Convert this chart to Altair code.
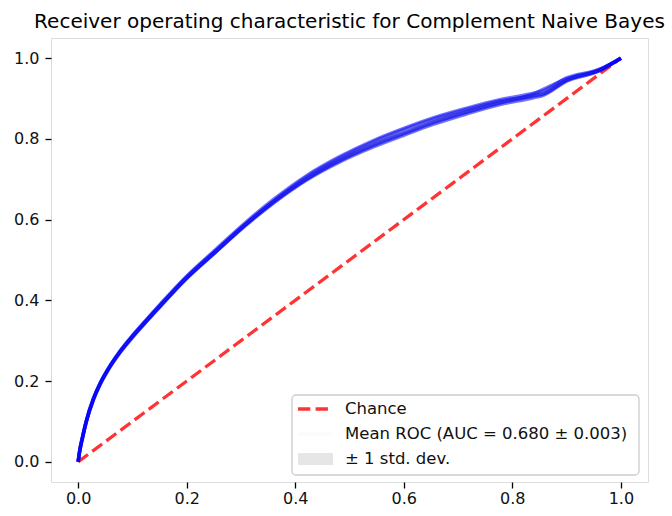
import altair as alt
import pandas as pd

# False positive rate grid shared by every fold
fpr = [0, 0.003, 0.008, 0.015, 0.028, 0.04, 0.053, 0.077, 0.1, 0.125, 0.155,
       0.194, 0.255, 0.311, 0.36, 0.421, 0.482, 0.544, 0.6, 0.654, 0.716,
       0.777, 0.839, 0.857, 0.9, 0.961, 1.0]

# True positive rate for each cross-validation fold
fold_tpr = [
    [0, 0.026, 0.058, 0.098, 0.153, 0.190, 0.222, 0.270, 0.308, 0.346, 0.390,
     0.446, 0.521, 0.588, 0.641, 0.698, 0.743, 0.780, 0.809, 0.836, 0.862,
     0.885, 0.902, 0.908, 0.943, 0.969, 1.0],
    [0, 0.030, 0.062, 0.102, 0.157, 0.194, 0.226, 0.274, 0.312, 0.350, 0.394,
     0.450, 0.525, 0.592, 0.645, 0.702, 0.748, 0.786, 0.815, 0.842, 0.868,
     0.891, 0.908, 0.913, 0.946, 0.971, 1.0],
    [0, 0.028, 0.060, 0.100, 0.155, 0.192, 0.224, 0.272, 0.310, 0.348, 0.392,
     0.448, 0.523, 0.590, 0.643, 0.700, 0.746, 0.784, 0.813, 0.840, 0.866,
     0.889, 0.906, 0.911, 0.945, 0.970, 1.0],
    [0, 0.029, 0.061, 0.101, 0.156, 0.193, 0.225, 0.274, 0.313, 0.351, 0.396,
     0.452, 0.528, 0.596, 0.650, 0.709, 0.756, 0.796, 0.826, 0.852, 0.876,
     0.897, 0.913, 0.919, 0.951, 0.973, 1.0],
    [0, 0.027, 0.059, 0.099, 0.154, 0.191, 0.223, 0.271, 0.309, 0.347, 0.391,
     0.447, 0.522, 0.591, 0.646, 0.706, 0.753, 0.793, 0.823, 0.849, 0.873,
     0.894, 0.911, 0.923, 0.949, 0.972, 1.0],
]

chance = [0.0, 1.0]
ticks = [0.0, 0.2, 0.4, 0.6, 0.8, 1.0]
legend_labels = ["Chance", "Mean ROC (AUC = 0.680 ± 0.003)", "± 1 std. dev."]
title_text = "Receiver operating characteristic for Complement Naive Bayes"

FONT = "DejaVu Sans"

rows = []
for k, tpr in enumerate(fold_tpr):
    for f, t in zip(fpr, tpr):
        rows.append({"fold": k, "fpr": f, "tpr": t})
folds = pd.DataFrame(rows)

stats = folds.groupby("fpr")["tpr"].agg(["mean", "std"]).reset_index()
stats["lo"] = stats["mean"] - stats["std"]
stats["hi"] = (stats["mean"] + stats["std"]).clip(upper=1.0)

diag = pd.DataFrame({"fpr": chance, "tpr": chance})

xs = alt.Scale(domain=[-0.05, 1.05], nice=False, zero=False)
ys = alt.Scale(domain=[-0.05, 1.05], nice=False, zero=False)

xaxis = alt.Axis(values=ticks, format=".1f", title=None, grid=False, domain=False,
                 tickSize=6, tickWidth=1.3, tickColor="#000", labelPadding=2,
                 labelFont=FONT, labelFontSize=16, labelColor="#111")
yaxis = alt.Axis(values=ticks, format=".1f", title=None, grid=False, domain=False,
                 tickSize=6, tickWidth=1.3, tickColor="#000", labelPadding=6,
                 labelFont=FONT, labelFontSize=16, labelColor="#111")

chance_line = alt.Chart(diag).mark_line(
    color="#ff0000", opacity=0.8, strokeWidth=3.3, strokeDash=[12.3, 5.3]
).encode(x=alt.X("fpr:Q", scale=xs, axis=xaxis), y=alt.Y("tpr:Q", scale=ys, axis=yaxis))

fold_lines = alt.Chart(folds).mark_line(
    color="#0000ff", opacity=0.55, strokeWidth=3.5, interpolate="monotone"
).encode(x=alt.X("fpr:Q", scale=xs), y=alt.Y("tpr:Q", scale=ys), detail="fold:N")

band = alt.Chart(stats).mark_area(color="grey", opacity=0.2, interpolate="monotone").encode(
    x=alt.X("fpr:Q", scale=xs), y=alt.Y("lo:Q", scale=ys), y2="hi:Q"
)

mean_line = alt.Chart(stats).mark_line(
    color="#0000ff", opacity=0.02, strokeWidth=3.3, interpolate="monotone"
).encode(x=alt.X("fpr:Q", scale=xs), y=alt.Y("mean:Q", scale=ys))

# Legend box in the lower right corner
LX0, LX1, LY0, LY1 = 292, 639, 395, 475
ROW_Y = [409, 434, 459]
H0, H1, TX = 298, 331, 345
one = pd.DataFrame({"a": [0]})

legend_box = alt.Chart(one).mark_rect(
    fill="white", fillOpacity=0.8, stroke="#cccccc", strokeWidth=1.3, cornerRadius=4
).encode(x=alt.value(LX0 - 51), x2=alt.value(LX1 - 51),
         y=alt.value(LY0 - 38), y2=alt.value(LY1 - 38))

leg_chance = alt.Chart(one).mark_rule(
    color="#ff0000", opacity=0.8, strokeWidth=3.3, strokeDash=[12.3, 5.3]
).encode(x=alt.value(H0 - 51), x2=alt.value(H1 - 51), y=alt.value(ROW_Y[0] - 38))

leg_mean = alt.Chart(one).mark_rule(
    color="#0000ff", opacity=0.02, strokeWidth=3.3
).encode(x=alt.value(H0 - 51), x2=alt.value(H1 - 51), y=alt.value(ROW_Y[1] - 38))

leg_band = alt.Chart(one).mark_rect(color="grey", opacity=0.2).encode(
    x=alt.value(H0 - 51), x2=alt.value(H1 - 51 + 2),
    y=alt.value(ROW_Y[2] - 38 - 6), y2=alt.value(ROW_Y[2] - 38 + 6)
)

leg_text = [
    alt.Chart(one).mark_text(
        text=lab, align="left", baseline="middle", font=FONT, fontSize=16.5, color="#111"
    ).encode(x=alt.value(TX - 51), y=alt.value(yy - 38))
    for lab, yy in zip(legend_labels, ROW_Y)
]

chart = alt.layer(
    chance_line, fold_lines, band, mean_line,
    legend_box, leg_chance, leg_mean, leg_band, *leg_text
).properties(
    width=597, height=444,
    title=alt.TitleParams(title_text, font=FONT, fontSize=20, fontWeight="normal",
                          color="#000", anchor="middle", offset=6),
    autosize=alt.AutoSizeParams(type="none"),
    padding={"left": 51, "top": 38, "right": 24, "bottom": 34},
).configure_view(
    stroke="#000", strokeWidth=1.3
).configure(background="white")

chart.save("out.html", embed_options={"renderer": "svg", "actions": False})
